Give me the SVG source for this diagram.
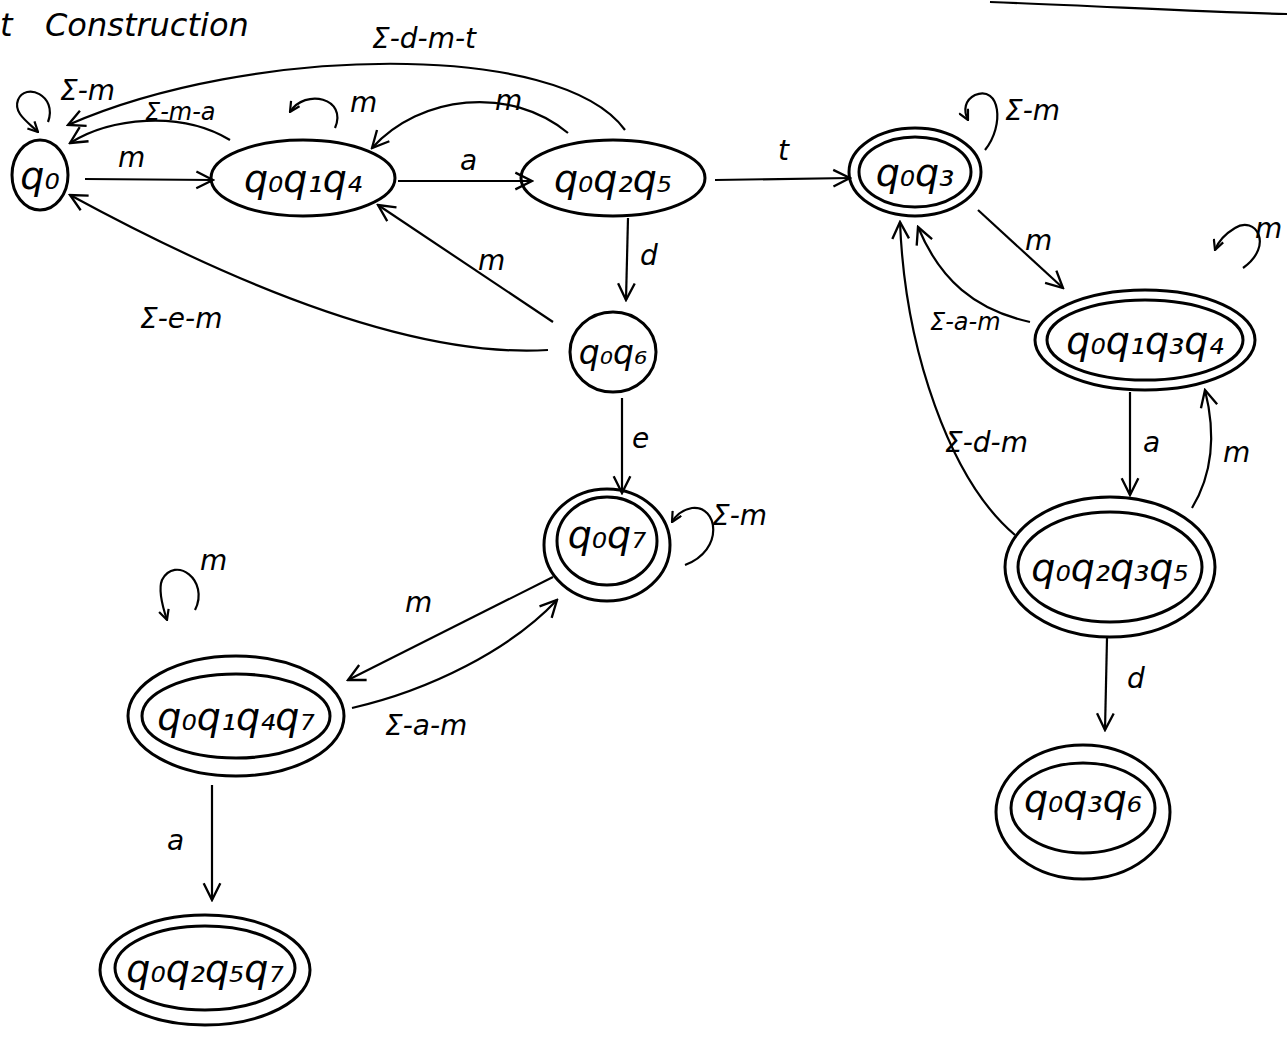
<svg xmlns="http://www.w3.org/2000/svg" width="1287" height="1044" viewBox="0 0 1287 1044">
<style>
.n{fill:none;stroke:#000;stroke-width:3}
.e{fill:none;stroke:#000;stroke-width:2.2}
.t{font-family:"DejaVu Sans",sans-serif;font-style:italic;fill:#000}
.nl{font-size:38px;text-anchor:middle}
.el{font-size:28px}
.sl{font-size:24px}
</style>
<defs>
<marker id="ah" viewBox="0 0 12 12" refX="11" refY="6" markerWidth="12" markerHeight="12" markerUnits="userSpaceOnUse" orient="auto">
<path d="M1,1 L11,6 L1,11" fill="none" stroke="#000" stroke-width="2.2"/>
</marker>
<marker id="ahl" viewBox="0 0 12 12" refX="11" refY="6" markerWidth="20" markerHeight="20" markerUnits="userSpaceOnUse" orient="auto">
<path d="M1,1 L11,6 L1,11" fill="none" stroke="#000" stroke-width="1.4"/>
</marker>
</defs>
<rect width="1287" height="1044" fill="#fff"/>
<text class="t" x="0" y="36" font-size="32">t</text>
<text class="t" x="45" y="36" font-size="32">Construction</text>
<path class="e" d="M990,2 C1100,6 1200,12 1287,14" stroke-width="3.5"/>
<g id="connectors">
<path class="e" marker-end="url(#ahl)" d="M85,179 L213,180"/>
<path class="e" marker-end="url(#ahl)" d="M398,181 L532,181"/>
<path class="e" marker-end="url(#ahl)" d="M715,180 L850,178"/>
<path class="e" marker-end="url(#ahl)" d="M628,218 L626,300"/>
<path class="e" marker-end="url(#ahl)" d="M622,398 L622,493"/>
<path class="e" marker-end="url(#ahl)" d="M553,322 L378,205"/>
<path class="e" stroke-width="3" marker-end="url(#ahl)" d="M548,350 C450,356 300,320 70,195"/>
<path class="e" stroke-width="3" marker-end="url(#ahl)" d="M230,140 C180,110 110,118 70,143"/>
<path class="e" stroke-width="3" marker-end="url(#ahl)" d="M625,130 C560,40 250,45 68,125"/>
<path class="e" stroke-width="3" marker-end="url(#ahl)" d="M568,133 C510,85 420,95 372,148"/>
<path class="e" stroke-width="3" marker-end="url(#ah)" d="M48,122 C58,95 25,82 18,100 C13,113 28,122 38,132"/>
<path class="e" stroke-width="3" marker-end="url(#ah)" d="M335,128 C348,98 305,88 290,112"/>
<path class="e" stroke-width="3" marker-end="url(#ah)" d="M985,150 C1005,125 1000,85 975,95 C965,100 963,110 968,120"/>
<path class="e" marker-end="url(#ahl)" d="M978,210 L1063,288"/>
<path class="e" marker-end="url(#ahl)" d="M1030,322 C975,310 940,280 918,227"/>
<path class="e" stroke-width="3" marker-end="url(#ah)" d="M1243,268 C1275,245 1255,215 1235,228 C1225,234 1218,242 1215,250"/>
<path class="e" marker-end="url(#ahl)" d="M1130,392 L1130,495"/>
<path class="e" marker-end="url(#ahl)" d="M1192,508 C1215,470 1215,430 1205,390"/>
<path class="e" marker-end="url(#ahl)" d="M1015,535 C950,480 905,350 900,222"/>
<path class="e" marker-end="url(#ahl)" d="M1107,638 L1105,730"/>
<path class="e" stroke-width="3" marker-end="url(#ah)" d="M685,565 C725,550 718,505 692,508 C682,510 676,515 672,522"/>
<path class="e" marker-end="url(#ahl)" d="M553,577 L348,680"/>
<path class="e" stroke-width="3" marker-end="url(#ahl)" d="M352,708 C430,690 510,650 557,600"/>
<path class="e" stroke-width="3" marker-end="url(#ah)" d="M195,610 C210,580 175,555 162,580 C158,590 162,605 167,620"/>
<path class="e" marker-end="url(#ahl)" d="M212,785 L212,900"/>
<text class="t el" x="118" y="167">m</text>
<text class="t el" x="460" y="170">a</text>
<text class="t el" x="778" y="160">t</text>
<text class="t el" x="640" y="265">d</text>
<text class="t el" x="632" y="448">e</text>
<text class="t el" x="478" y="270">m</text>
<text class="t el" x="140" y="328">Σ-e-m</text>
<text class="t sl" x="145" y="120">Σ-m-a</text>
<text class="t el" x="372" y="48">Σ-d-m-t</text>
<text class="t el" x="495" y="110">m</text>
<text class="t el" x="60" y="100">Σ-m</text>
<text class="t el" x="350" y="112">m</text>
<text class="t el" x="1005" y="120">Σ-m</text>
<text class="t el" x="1025" y="250">m</text>
<text class="t sl" x="930" y="330">Σ-a-m</text>
<text class="t el" x="1255" y="238">m</text>
<text class="t el" x="1143" y="452">a</text>
<text class="t el" x="1223" y="462">m</text>
<text class="t el" x="945" y="452">Σ-d-m</text>
<text class="t el" x="1127" y="688">d</text>
<text class="t el" x="712" y="525">Σ-m</text>
<text class="t el" x="405" y="612">m</text>
<text class="t el" x="385" y="735">Σ-a-m</text>
<text class="t el" x="200" y="570">m</text>
<text class="t el" x="167" y="850">a</text>
</g>
<g id="q0"><ellipse class="n" cx="40" cy="175" rx="28" ry="35"/><text class="t nl" x="40" y="189">q₀</text></g>
<g id="q0q1q4"><ellipse class="n" cx="303" cy="178" rx="92" ry="38"/><text class="t nl" x="303" y="192">q₀q₁q₄</text></g>
<g id="q0q2q5"><ellipse class="n" cx="613" cy="178" rx="92" ry="38"/><text class="t nl" x="613" y="192">q₀q₂q₅</text></g>
<g id="q0q3"><ellipse class="n" cx="915" cy="172" rx="66" ry="44"/><ellipse class="n" cx="915" cy="172" rx="56" ry="35"/><text class="t nl" x="915" y="186">q₀q₃</text></g>
<g id="q0q1q3q4"><ellipse class="n" cx="1145" cy="340" rx="110" ry="50"/><ellipse class="n" cx="1145" cy="340" rx="98" ry="40"/><text class="t nl" x="1145" y="354">q₀q₁q₃q₄</text></g>
<g id="q0q2q3q5"><ellipse class="n" cx="1110" cy="567" rx="105" ry="70"/><ellipse class="n" cx="1110" cy="567" rx="92" ry="55"/><text class="t nl" x="1110" y="581">q₀q₂q₃q₅</text></g>
<g id="q0q3q6"><ellipse class="n" cx="1083" cy="812" rx="87" ry="67"/><ellipse class="n" cx="1083" cy="808" rx="72" ry="45"/><text class="t nl" x="1083" y="812">q₀q₃q₆</text></g>
<g id="q0q6"><ellipse class="n" cx="613" cy="352" rx="43" ry="40"/><text class="t nl" x="613" y="364" style="font-size:33px">q₀q₆</text></g>
<g id="q0q7"><ellipse class="n" cx="607" cy="545" rx="63" ry="56"/><ellipse class="n" cx="607" cy="541" rx="50" ry="44"/><text class="t nl" x="607" y="548">q₀q₇</text></g>
<g id="q0q1q4q7"><ellipse class="n" cx="236" cy="716" rx="108" ry="60"/><ellipse class="n" cx="236" cy="716" rx="94" ry="42"/><text class="t nl" x="236" y="730">q₀q₁q₄q₇</text></g>
<g id="q0q2q5q7"><ellipse class="n" cx="205" cy="970" rx="105" ry="55"/><ellipse class="n" cx="205" cy="968" rx="90" ry="42"/><text class="t nl" x="205" y="982">q₀q₂q₅q₇</text></g>
</svg>
